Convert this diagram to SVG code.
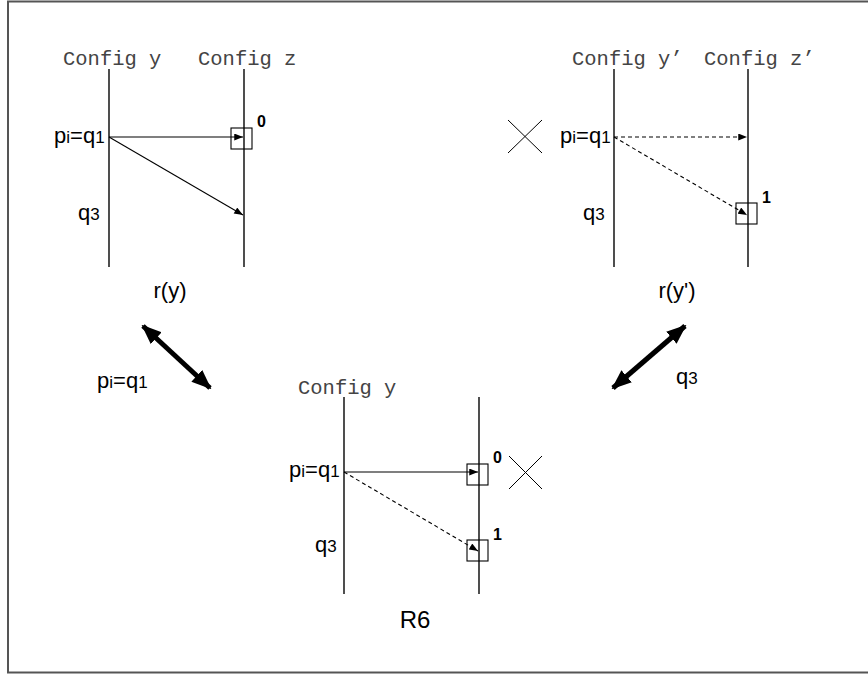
<svg xmlns="http://www.w3.org/2000/svg" width="868" height="675" viewBox="0 0 868 675">
<style>
.mono{font-family:"Liberation Mono","Courier New",monospace;font-size:20.5px;fill:#444}
.sans{font-family:"Liberation Sans",Arial,Helvetica,sans-serif;font-size:22px;fill:#000}
.sub{font-size:17px}
.cap{font-family:"Liberation Sans",Arial,Helvetica,sans-serif;font-size:22px;fill:#000}
.num{font-family:"Liberation Sans",Arial,Helvetica,sans-serif;font-size:16px;font-weight:bold;fill:#000}
.life{stroke:#222;stroke-width:1.6;fill:none}
.msg{stroke:#000;stroke-width:1.1;fill:none;marker-end:url(#ah)}
.dash{stroke-dasharray:4 3}
.box{stroke:#000;stroke-width:1.1;fill:none}
.cross{stroke:#000;stroke-width:1;fill:none}
.big{stroke:#000;stroke-width:5;fill:none;marker-start:url(#bh);marker-end:url(#bh)}
</style>
<defs>
<marker id="ah" viewBox="0 0 10 8" refX="10" refY="4" markerWidth="10" markerHeight="7" markerUnits="userSpaceOnUse" orient="auto">
<path d="M0,0 L10,4 L0,8 Z" fill="#000"/>
</marker>
<marker id="bh" viewBox="0 0 20 16" refX="18" refY="8" markerWidth="20" markerHeight="16" markerUnits="userSpaceOnUse" orient="auto-start-reverse">
<path d="M0,0 L20,8 L0,16 Z" fill="#000"/>
</marker>
</defs>
<rect x="8" y="1.5" width="870" height="671" fill="#fff" stroke="#555" stroke-width="2"/>

<g id="panel-ry">
<text class="mono" x="63" y="65">Config y</text>
<text class="mono" x="198" y="65">Config z</text>
<line class="life" x1="109" y1="69" x2="109" y2="267"/>
<line class="life" x1="244" y1="69" x2="244" y2="267"/>
<rect class="box" x="231" y="128" width="21" height="21"/>
<text class="num" x="257" y="127">0</text>
<text class="sans" x="54" y="143">p<tspan class="sub">i</tspan>=q<tspan class="sub">1</tspan></text>
<text class="sans" x="78" y="220">q<tspan class="sub">3</tspan></text>
<text class="cap" x="170" y="298" text-anchor="middle">r(y)</text>
</g>

<g id="panel-ryp">
<text class="mono" x="572" y="65">Config y’</text>
<text class="mono" x="704" y="65">Config z’</text>
<line class="life" x1="614" y1="69" x2="614" y2="267"/>
<line class="life" x1="748" y1="69" x2="748" y2="267"/>
<rect class="box" x="736" y="203" width="21" height="21"/>
<text class="num" x="762" y="203">1</text>
<path class="cross" d="M508,120 L542,153 M542,120 L508,153"/>
<text class="sans" x="560" y="143">p<tspan class="sub">i</tspan>=q<tspan class="sub">1</tspan></text>
<text class="sans" x="583" y="220">q<tspan class="sub">3</tspan></text>
<text class="cap" x="677" y="298" text-anchor="middle">r(y')</text>
</g>

<g id="panel-r6">
<text class="mono" x="298" y="394">Config y</text>
<line class="life" x1="344" y1="397" x2="344" y2="594"/>
<line class="life" x1="479" y1="397" x2="479" y2="594"/>
<rect class="box" x="467" y="464" width="21" height="21"/>
<text class="num" x="493" y="463">0</text>
<path class="cross" d="M509,456 L542,489 M542,456 L509,489"/>
<rect class="box" x="467" y="540" width="21" height="21"/>
<text class="num" x="493" y="540">1</text>
<text class="sans" x="289" y="477">p<tspan class="sub">i</tspan>=q<tspan class="sub">1</tspan></text>
<text class="sans" x="315" y="552">q<tspan class="sub">3</tspan></text>
<text class="cap" x="415" y="628" text-anchor="middle" style="font-size:24px">R6</text>
</g>

<g id="labels">
<text class="sans" x="97" y="388">p<tspan class="sub">i</tspan>=q<tspan class="sub">1</tspan></text>
<text class="sans" x="676" y="384">q<tspan class="sub">3</tspan></text>
</g>

<g id="connectors">
<line class="msg" x1="109" y1="137" x2="243" y2="137"/>
<line class="msg" x1="109" y1="137" x2="243" y2="215"/>
<line class="msg dash" x1="614" y1="137" x2="747" y2="137"/>
<line class="msg dash" x1="614" y1="137" x2="747" y2="215"/>
<line class="msg" x1="344" y1="472" x2="478" y2="472"/>
<line class="msg dash" x1="344" y1="472" x2="478" y2="551"/>
<line class="big" x1="143" y1="326" x2="210" y2="388"/>
<line class="big" x1="685" y1="326" x2="613" y2="388"/>
</g>
</svg>
